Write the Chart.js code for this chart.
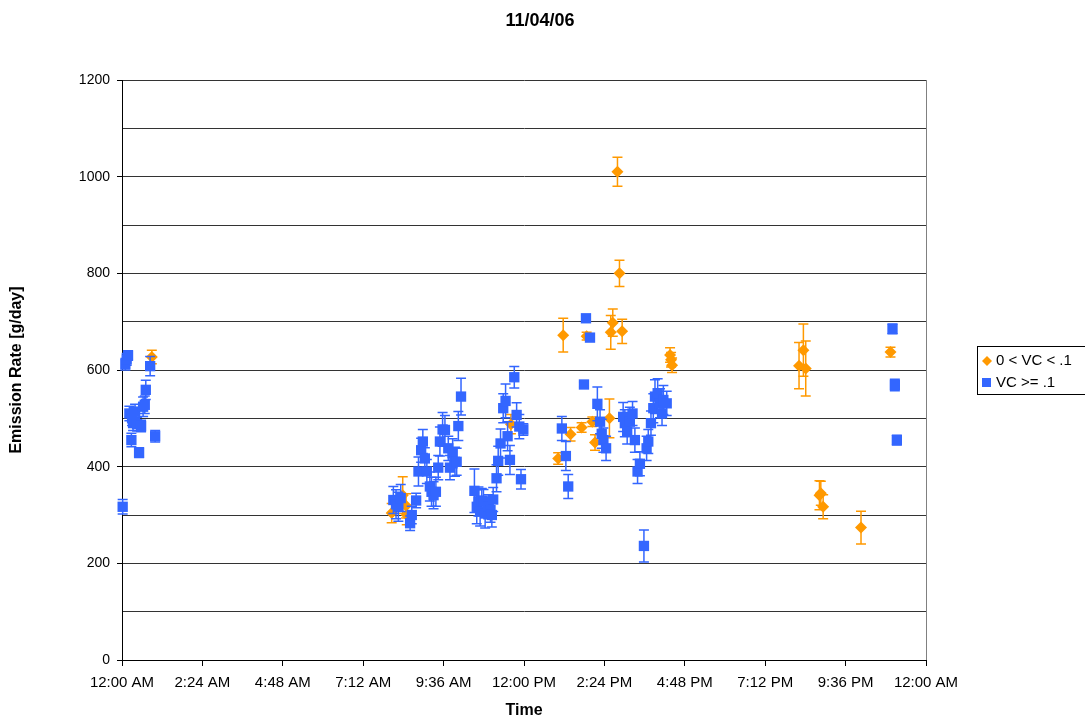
<!DOCTYPE html>
<html>
<head>
<meta charset="utf-8">
<script src="https://cdn.jsdelivr.net/npm/chart.js@4/dist/chart.umd.min.js"></script>
<style>
html,body{margin:0;padding:0;background:#fff;}
#wrap{width:1085px;height:721px;}
</style>
</head>
<body>
<div id="wrap"><canvas id="c" width="1085" height="721"></canvas></div>
<script>
// ---- Data (hours since midnight, emission rate g/day, error +/-) ----
const chartTitle = "11/04/06";
const xTitle = "Time";
const yTitle = "Emission Rate [g/day]";
const seriesNames = ["0 < VC < .1", "VC >= .1"];
const xTickLabels = ["12:00 AM","2:24 AM","4:48 AM","7:12 AM","9:36 AM","12:00 PM","2:24 PM","4:48 PM","7:12 PM","9:36 PM","12:00 AM"];

const orangeX = [0.89,8.05,8.38,8.48,8.50,11.61,13.02,13.17,13.39,13.72,13.87,14.04,14.12,14.55,14.59,14.65,14.79,14.85,14.93,16.36,16.39,16.42,20.21,20.34,20.41,20.82,20.86,20.93,22.06,22.94];
const orangeY = [627,304,341,319,300,488,417,672,467,481,670,493,450,500,678,698,1010,800,680,631,621,610,609,641,603,341,345,317,274,637];
const orangeErr = [14,20,38,25,20,20,12,35,14,10,8,10,16,40,35,28,30,27,25,15,15,15,48,54,57,30,25,25,34,10];

const blueX = [0.02,0.10,0.14,0.18,0.22,0.30,0.33,0.39,0.28,0.45,0.51,0.57,0.63,0.68,0.71,0.84,0.99,
  8.10,8.18,8.25,8.32,8.60,8.65,8.78,8.85,8.93,8.98,9.04,9.10,9.19,9.24,9.30,9.37,9.44,9.49,9.57,9.64,9.74,9.79,9.87,9.94,9.99,10.04,10.12,
  10.52,10.59,10.64,10.69,10.74,10.79,10.84,10.93,11.00,11.04,11.08,11.18,11.23,11.30,11.38,11.45,11.51,11.58,11.71,11.78,11.86,11.98,11.91,
  13.13,13.25,13.32,13.79,13.85,13.97,14.19,14.27,14.32,14.37,14.45,
  14.96,15.01,15.08,15.16,15.24,15.31,15.39,15.46,15.58,15.66,15.71,15.79,15.86,15.91,15.99,16.06,16.12,16.16,16.26,
  23.00,23.07,23.13];
const blueY = [317,612,622,630,510,500,490,514,455,488,429,484,524,528,559,608,463,
  331,322,317,335,283,300,330,390,434,452,417,390,359,348,341,348,398,452,477,476,438,398,428,410,410,484,545,
  350,317,328,307,330,328,303,317,310,300,332,376,412,448,521,536,463,414,585,507,483,477,374,
  479,422,359,570,707,667,530,493,468,455,438,
  503,490,472,493,510,455,390,406,236,438,452,490,521,545,552,531,510,538,531,
  685,569,455];
const blueErr = [15,12,12,10,15,15,15,15,14,14,10,12,20,18,20,20,12,
  28,30,30,28,15,18,15,30,25,25,22,25,30,30,28,30,25,30,35,30,25,25,30,30,28,30,38,
  45,35,30,30,25,25,30,25,25,25,25,28,30,30,30,35,30,30,22,25,25,12,20,
  25,30,25,5,5,5,35,25,30,25,25,
  30,28,25,30,25,25,25,25,33,25,25,25,30,35,30,30,25,30,25,
  10,12,10];

const orangeColor = '#FF9900';
const blueColor = '#3366FF';
const fontFam = '"Liberation Sans", Arial, sans-serif';

function pts(xs, ys, es){ return xs.map((x,i)=>({x:x, y:ys[i], e:es[i]})); }

const errorBars = {
  id:'errorBars',
  beforeDatasetDraw(chart, args){
    const ds = chart.data.datasets[args.index];
    const xs = chart.scales.x, ys = chart.scales.y;
    const ctx = chart.ctx;
    ctx.save();
    ctx.strokeStyle = ds.borderColor;
    ctx.lineWidth = 1.5;
    ds.data.forEach(p=>{
      const px = xs.getPixelForValue(p.x);
      const top = ys.getPixelForValue(p.y + p.e);
      const bot = ys.getPixelForValue(p.y - p.e);
      ctx.beginPath();
      ctx.moveTo(px, top); ctx.lineTo(px, bot);
      ctx.moveTo(px-5, top); ctx.lineTo(px+5, top);
      ctx.moveTo(px-5, bot); ctx.lineTo(px+5, bot);
      ctx.stroke();
    });
    ctx.restore();
  }
};

const decor = {
  id:'decor',
  afterDraw(chart){
    const ctx = chart.ctx;
    const a = chart.chartArea;
    ctx.save();
    ctx.strokeStyle = '#808080';
    ctx.lineWidth = 1;
    ctx.beginPath();
    ctx.moveTo(Math.round(a.right)+0.5, a.top);
    ctx.lineTo(Math.round(a.right)+0.5, a.bottom);
    ctx.stroke();
    ctx.fillStyle = '#000';
    ctx.textAlign = 'center';
    ctx.textBaseline = 'middle';
    ctx.font = 'bold 18px ' + fontFam;
    ctx.fillText(chartTitle, 540, 21);
    ctx.font = 'bold 16px ' + fontFam;
    ctx.fillText(xTitle, 524, 711);
    ctx.save();
    ctx.translate(17, 370);
    ctx.rotate(-Math.PI/2);
    ctx.fillText(yTitle, 0, 0);
    ctx.restore();
    ctx.strokeStyle = '#000';
    ctx.lineWidth = 1;
    ctx.fillStyle = '#fff';
    ctx.fillRect(977.5, 346.5, 110, 48);
    ctx.strokeRect(977.5, 346.5, 110, 48);
    ctx.font = '15px ' + fontFam;
    ctx.textAlign = 'left';
    ctx.fillStyle = orangeColor;
    ctx.beginPath();
    ctx.moveTo(987, 356); ctx.lineTo(992, 361); ctx.lineTo(987, 366); ctx.lineTo(982, 361);
    ctx.closePath(); ctx.fill();
    ctx.fillStyle = blueColor;
    ctx.fillRect(982, 378, 9, 9);
    ctx.fillStyle = '#000';
    ctx.fillText(seriesNames[0], 996, 361);
    ctx.fillText(seriesNames[1], 996, 383);
    ctx.restore();
  }
};

new Chart(document.getElementById('c'), {
  type:'scatter',
  data:{
    datasets:[
      {label:seriesNames[0], data:pts(orangeX, orangeY, orangeErr), pointStyle:'rectRot', pointRadius:6, pointHoverRadius:6,
       backgroundColor:orangeColor, borderColor:orangeColor, borderWidth:0, order:2, clip:false},
      {label:seriesNames[1], data:pts(blueX, blueY, blueErr), pointStyle:'rect', pointRadius:7.3, pointHoverRadius:7.3,
       backgroundColor:blueColor, borderColor:blueColor, borderWidth:0, order:1, clip:false}
    ]
  },
  options:{
    responsive:false,
    animation:false,
    events:[],
    layout:{padding:{top:80, right:159, left:0, bottom:0}},
    plugins:{legend:{display:false}, title:{display:false}, tooltip:{enabled:false}},
    scales:{
      x:{
        type:'linear', min:0, max:24,
        afterFit(s){ s.height = 61; },
        afterBuildTicks(s){ s.ticks = xTickLabels.map((l,i)=>({value:i*2.4})); },
        ticks:{
          autoSkip:false, maxRotation:0, padding:8, color:'#000',
          font:{family:fontFam, size:15},
          callback:(v,i)=>xTickLabels[i]
        },
        grid:{drawOnChartArea:false, drawTicks:true, tickLength:6, color:'#000', tickColor:'#000'},
        border:{color:'#000', width:1}
      },
      y:{
        type:'linear', min:0, max:1200,
        afterFit(s){ s.width = 122; },
        ticks:{
          stepSize:100, padding:7, color:'#000',
          font:{family:fontFam, size:14},
          callback:v=> (v%200===0 ? String(v) : '')
        },
        grid:{
          color:'#333', lineWidth:1, drawTicks:true, tickLength:5,
          tickColor:ctx=> (ctx.tick && ctx.tick.value%200===0 ? '#000' : 'rgba(0,0,0,0)')
        },
        border:{color:'#000', width:1}
      }
    }
  },
  plugins:[errorBars, decor]
});
</script>
</body>
</html>
